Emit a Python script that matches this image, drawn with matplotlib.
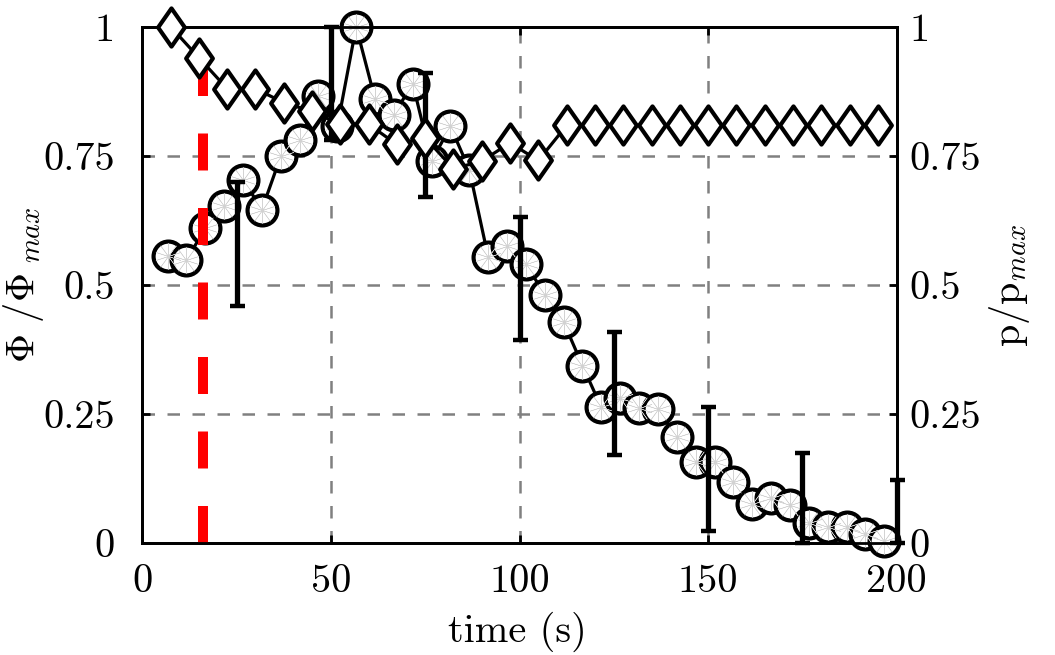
import matplotlib
matplotlib.use("Agg")
import matplotlib.pyplot as plt
from matplotlib.path import Path
from matplotlib.markers import MarkerStyle

# ---- data ----
t_phi = [6.7, 11.7, 16.7, 21.7, 26.7, 31.7, 36.7, 41.7, 46.7, 51.7,
         56.7, 61.7, 66.7, 71.7, 76.7, 81.7, 86.7, 91.7, 96.7, 101.7,
         106.7, 111.7, 116.7, 121.7, 126.7, 131.7, 136.7, 141.7, 146.7, 151.7,
         156.7, 161.7, 166.7, 171.7, 176.7, 181.7, 186.7, 191.7, 196.7]
phi = [0.557, 0.548, 0.610, 0.652, 0.704, 0.646, 0.749, 0.780, 0.866, 0.807,
       1.000, 0.860, 0.830, 0.890, 0.740, 0.807, 0.723, 0.554, 0.576, 0.541,
       0.481, 0.428, 0.344, 0.263, 0.281, 0.262, 0.260, 0.205, 0.158, 0.158,
       0.119, 0.076, 0.087, 0.074, 0.039, 0.032, 0.031, 0.018, 0.005]

t_p = [7.5, 15, 22.5, 30, 37.5, 45, 52.5, 60, 67.5, 75, 82.5, 90, 97.5,
       105, 112.5, 120, 127.5, 135, 142.5, 150, 157.5, 165, 172.5, 180,
       187.5, 195]
p = [1.000, 0.940, 0.880, 0.880, 0.853, 0.836, 0.811, 0.811, 0.772, 0.785,
     0.725, 0.740, 0.775, 0.741, 0.809, 0.809, 0.809, 0.809, 0.809, 0.809,
     0.809, 0.809, 0.809, 0.809, 0.809, 0.809]

t_err = [25, 50, 75, 100, 125, 150, 175, 200]
err_mid = [0.580, 0.890, 0.790, 0.512, 0.290, 0.143, 0.087, 0.062]
err_low = [0.460, 0.780, 0.670, 0.393, 0.170, 0.023, 0.000, 0.000]
err_high = [0.700, 1.000, 0.911, 0.632, 0.409, 0.263, 0.174, 0.123]

t_onset = [16.0, 16.0]
onset_span = [0.0, 1.0]

xticks = [0, 50, 100, 150, 200]
xtick_labels = ["0", "50", "100", "150", "200"]
yticks = [0, 0.25, 0.5, 0.75, 1]
ytick_labels = ["0", "0.25", "0.5", "0.75", "1"]

# ---- style ----
plt.rcParams.update({
    "font.family": "serif",
    "font.serif": ["cmr10"],
    "mathtext.fontset": "cm",
    "axes.formatter.use_mathtext": True,
    "font.size": 29,
})

W, H = 1055, 655
fig = plt.figure(figsize=(W / 100, H / 100), dpi=100)
L, R, T, B = 142.3, 896.7, 26.7, 543.3
ax = fig.add_axes([L / W, 1 - B / H, (R - L) / W, (B - T) / H])
ax2 = ax.twinx()

for a in (ax, ax2):
    a.set_xlim(0, 200)
    a.set_ylim(0, 1)
    for s in a.spines.values():
        s.set_linewidth(2.0)

ax.set_xticks(xticks)
ax.set_xticklabels(xtick_labels)
ax.set_yticks(yticks)
ax.set_yticklabels(ytick_labels)
ax2.set_yticks(yticks)
ax2.set_yticklabels(ytick_labels)

ax.tick_params(axis="x", direction="in", length=6, width=2, top=True, pad=15)
ax.tick_params(axis="y", direction="in", length=6, width=2, pad=20)
ax2.tick_params(axis="y", direction="in", length=6, width=2, pad=9.4)

ax.grid(True, color="#808080", linestyle=(0, (5.0, 5.0)), linewidth=1.8)

# circles (Phi / Phi_max)
ax.plot(t_phi, phi, "-", color="k", lw=2.3, marker="o", ms=21.5,
        mfc="white", mec="k", mew=3.0, zorder=3, clip_on=False)
ax.plot(t_phi, phi, ls="none", marker=(10, 2, 0), ms=19, mec="#d2d2d2",
        mew=0.35, zorder=3.1, clip_on=False)

# onset line
ax.plot(t_onset, onset_span, color="red", lw=7.2, dashes=(3.7, 3.75),
        dash_capstyle="butt", zorder=3.5)

# error bars
yerr = [[m - lo for m, lo in zip(err_mid, err_low)],
        [hi - m for m, hi in zip(err_mid, err_high)]]
eb = ax.errorbar(t_err, err_mid, yerr=yerr, fmt="none", ecolor="k",
                 elinewidth=3.8, capsize=5.4, capthick=3.2, zorder=4)
for art in eb.lines[1] + eb.lines[2]:
    art.set_clip_on(False)

# diamonds (p / p_max)
diamond = MarkerStyle(Path([(0, 1), (0.7, 0), (0, -1), (-0.7, 0), (0, 1)],
                           closed=True), joinstyle="miter")
ax2.plot(t_p, p, "-", color="k", lw=2.3, marker=diamond, ms=27.5,
         mfc="white", mec="k", mew=3.0, zorder=3, clip_on=False)

fig.text(517.5 / W, 1 - 632 / H, "time (s)", ha="center", va="center")
fig.text(23 / W, 1 - 285 / H, r"$\Phi\ /\Phi_{\ max}$", rotation=90,
         ha="center", va="center")
fig.text(1010 / W, 1 - 285 / H, r"$\mathrm{p/p}_{max}$", rotation=90,
         ha="center", va="center")

fig.savefig("out.png", dpi=100)
